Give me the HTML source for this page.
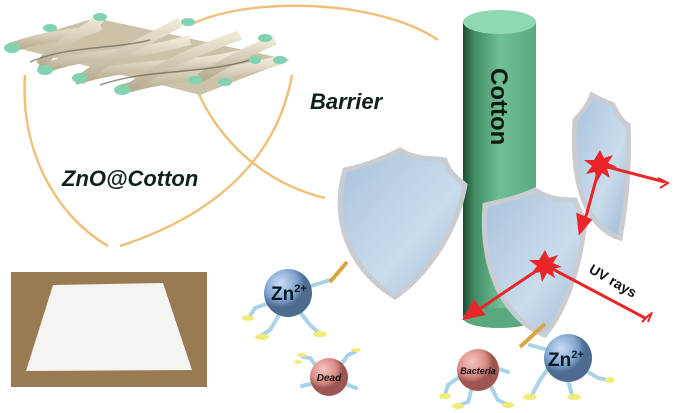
<!DOCTYPE html>
<html><head><style>
html,body{margin:0;padding:0;background:#fff;}
svg{display:block;}
text{font-family:"Liberation Sans",sans-serif;}
</style></head><body>
<svg width="685" height="413" viewBox="0 0 685 413" xmlns="http://www.w3.org/2000/svg">
<defs>
<linearGradient id="cyl" x1="0" x2="1">
<stop offset="0" stop-color="#1f4a33"/><stop offset="0.15" stop-color="#3f8a62"/><stop offset="0.5" stop-color="#6fbf94"/><stop offset="1" stop-color="#5aa880"/>
</linearGradient>
<linearGradient id="sh" x1="0" y1="0" x2="1" y2="1">
<stop offset="0" stop-color="#a9c3dc"/><stop offset="0.6" stop-color="#c9dcec"/><stop offset="1" stop-color="#9db8d2"/>
</linearGradient>
<radialGradient id="zn" cx="0.35" cy="0.3"><stop offset="0" stop-color="#c9defa"/><stop offset="0.7" stop-color="#7ea3cc"/><stop offset="1" stop-color="#4d6c90"/></radialGradient>
<radialGradient id="bac" cx="0.35" cy="0.3"><stop offset="0" stop-color="#f5c7c0"/><stop offset="0.7" stop-color="#d98a84"/><stop offset="1" stop-color="#9c5550"/></radialGradient>
<linearGradient id="str" x1="0" y1="0" x2="0" y2="1"><stop offset="0" stop-color="#efe8d6"/><stop offset="1" stop-color="#b8ad92"/></linearGradient>
</defs>

<g fill="none" stroke="#f0c07a" stroke-width="2.5">
<path d="M25,75 C20,150 55,215 108,246"/>
<path d="M120,246 C200,220 275,170 292,75"/>
<path d="M186,56 C200,120 250,180 325,198"/>
<path d="M190,25 C250,-5 380,0 438,40"/>
<circle cx="180" cy="47" r="5" stroke-width="1.5"/>
</g>

<g>
<path d="M5,45 L95,18 L290,60 L200,95 Z" fill="#cbc2a8"/>
<g stroke="url(#str)" stroke-width="10" fill="none">
<path d="M10,48 C60,30 80,38 100,25"/>
<path d="M40,70 C90,50 120,60 190,40"/>
<path d="M75,80 C140,60 180,70 240,55"/>
<path d="M120,90 C180,72 220,78 280,60"/>
<path d="M40,65 C60,40 90,30 100,18"/>
<path d="M80,80 C120,50 150,40 180,22"/>
<path d="M130,88 C170,60 200,50 240,35"/>
<path d="M200,78 C230,60 250,50 275,40"/>
</g>
<g stroke="#5a5444" stroke-width="1.5" fill="none" opacity="0.6">
<path d="M30,62 C70,45 110,50 150,40"/><path d="M100,85 C150,68 200,75 250,60"/>
</g>
<g fill="#7fd3b0">
<ellipse cx="12" cy="48" rx="8" ry="5"/><ellipse cx="45" cy="70" rx="8" ry="5"/>
<ellipse cx="80" cy="78" rx="8" ry="5"/><ellipse cx="122" cy="90" rx="8" ry="5"/>
<ellipse cx="100" cy="17" rx="7" ry="4"/><ellipse cx="188" cy="22" rx="7" ry="4"/>
<ellipse cx="265" cy="38" rx="7" ry="4"/><ellipse cx="280" cy="60" rx="7" ry="4"/>
<ellipse cx="225" cy="82" rx="7" ry="4"/><ellipse cx="195" cy="80" rx="7" ry="4"/>
<ellipse cx="50" cy="28" rx="7" ry="4"/><ellipse cx="255" cy="60" rx="6" ry="4"/>
</g>
</g>

<text x="310" y="109" font-size="22" font-weight="bold" font-style="italic" fill="#0f2118">Barrier</text>
<text x="62" y="186" font-size="22" font-weight="bold" font-style="italic" fill="#0f2118">ZnO@Cotton</text>

<rect x="11" y="272" width="196" height="115" fill="#9a7a52"/>
<path d="M53,285 L163,283 L192,370 L26,371 Z" fill="#f4f4f2"/>

<rect x="463" y="22" width="73" height="296" fill="url(#cyl)"/>
<ellipse cx="499.5" cy="318" rx="36.5" ry="10" fill="#5aa880"/>
<ellipse cx="499.5" cy="22" rx="36.5" ry="12" fill="#8fd9b2"/>
<text x="0" y="0" font-size="24" font-weight="bold" fill="#0c1a12" transform="translate(491,68) rotate(90)">Cotton</text>

<g stroke="#c9ccd0" stroke-width="5" fill="url(#sh)">
<path d="M345,170 C370,165 390,155 400,150 C415,160 435,158 445,160 C450,175 460,180 465,185 C455,240 420,280 395,297 C350,270 330,220 345,170 Z"/>
<path d="M485,205 C510,200 525,195 535,190 C550,200 565,200 575,200 C578,210 582,215 585,220 C580,270 565,310 545,335 C505,320 480,270 485,205 Z"/>
<path d="M575,120 C585,110 590,100 592,95 C600,100 608,102 613,105 C618,115 622,122 628,125 C630,170 625,210 620,238 C595,230 570,200 575,120 Z"/>
</g>

<g stroke="#e8262a" stroke-width="3" fill="#e8262a">
<line x1="665" y1="182" x2="600" y2="165"/>
<line x1="600" y1="165" x2="585" y2="220"/>
<path d="M580,232 L578,215 L590,220 Z"/>
<line x1="645" y1="318" x2="545" y2="265"/>
<line x1="545" y1="265" x2="478" y2="310"/>
<path d="M465,318 L474,302 L483,314 Z"/>
<path d="M658,178 L668,183 L660,188 M650,314 L642,322 M652,312 L648,322" fill="none" stroke-width="2"/>
<polygon points="600,150 604,158 613,155 608,163 617,167 607,169 610,178 602,173 597,182 595,172 586,174 592,166 584,160 594,160" stroke="none"/>
<polygon points="545,250 549,258 558,255 553,263 562,267 552,269 555,278 547,273 542,282 540,272 531,274 537,266 529,260 539,260" stroke="none"/>
</g>
<text x="0" y="0" font-size="14" font-weight="bold" fill="#111" transform="translate(588,272) rotate(30)">UV rays</text>

<g stroke="#a9d3e8" stroke-width="4" fill="none" stroke-linecap="round">
<path d="M272,302 L255,308 L250,316"/><path d="M280,313 L270,330 L262,335"/><path d="M300,312 L310,325 L318,332"/><path d="M308,287 L330,280"/>
<path d="M318,368 L310,358 L303,357"/><path d="M340,366 L348,355 L355,352"/><path d="M315,383 L302,386"/><path d="M343,383 L356,388"/>
<path d="M462,375 L448,385 L445,395"/><path d="M472,388 L468,402 L460,405"/><path d="M490,385 L498,400 L506,404"/><path d="M496,368 L508,372"/>
<path d="M550,366 L540,380 L532,395"/><path d="M568,380 L572,395"/><path d="M585,370 L598,378 L608,380"/><path d="M548,350 L530,345"/>
</g>
<g fill="#f0ec7a">
<ellipse cx="248" cy="318" rx="6" ry="3"/><ellipse cx="262" cy="337" rx="7" ry="3"/><ellipse cx="320" cy="334" rx="7" ry="3"/>
<ellipse cx="302" cy="355" rx="5" ry="2"/><ellipse cx="356" cy="350" rx="5" ry="2"/><ellipse cx="298" cy="362" rx="4" ry="2"/>
<ellipse cx="445" cy="396" rx="6" ry="3"/><ellipse cx="458" cy="406" rx="6" ry="3"/><ellipse cx="508" cy="405" rx="6" ry="3"/>
<ellipse cx="530" cy="397" rx="7" ry="3"/><ellipse cx="574" cy="397" rx="7" ry="3"/><ellipse cx="610" cy="380" rx="5" ry="3"/>
</g>
<line x1="330" y1="282" x2="347" y2="262" stroke="#d9a540" stroke-width="4"/>
<line x1="520" y1="347" x2="545" y2="324" stroke="#d9a540" stroke-width="4"/>
<circle cx="288" cy="293" r="24" fill="url(#zn)"/>
<text x="271" y="300" font-size="19" font-weight="bold" fill="#0c1a22">Zn<tspan font-size="11" dy="-8">2+</tspan></text>
<circle cx="329" cy="377" r="19" fill="url(#bac)"/>
<text x="329" y="381" font-size="10" font-weight="bold" font-style="italic" text-anchor="middle" fill="#111">Dead</text>
<circle cx="478" cy="370" r="21" fill="url(#bac)"/>
<text x="478" y="374" font-size="9" font-weight="bold" font-style="italic" text-anchor="middle" fill="#111">Bacteria</text>
<circle cx="568" cy="358" r="24" fill="url(#zn)"/>
<text x="548" y="366" font-size="19" font-weight="bold" fill="#0c1a22">Zn<tspan font-size="11" dy="-8">2+</tspan></text>
</svg>
</body></html>
